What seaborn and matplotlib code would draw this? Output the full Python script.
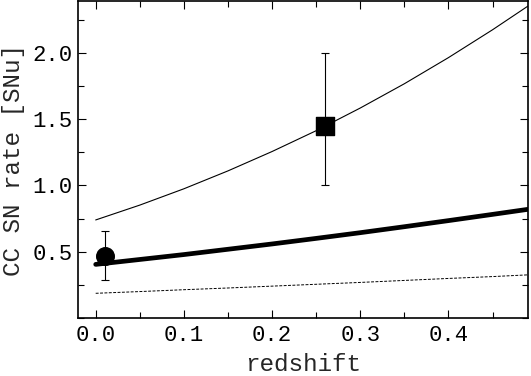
import matplotlib
matplotlib.use("Agg")
import matplotlib.pyplot as plt
import seaborn as sns
import pandas as pd
from matplotlib.ticker import MultipleLocator

sns.set_theme(style="ticks")
plt.rcParams['font.family'] = ['Liberation Mono', 'DejaVu Sans Mono']

# model curves
z_grid = [0.0, 0.05, 0.10, 0.15, 0.20, 0.25, 0.30, 0.35, 0.40, 0.45, 0.49]
upper = [0.740, 0.852, 0.975, 1.110, 1.256, 1.413, 1.584, 1.767, 1.964, 2.174, 2.352]
middle = [0.405, 0.442, 0.479, 0.519, 0.559, 0.601, 0.644, 0.689, 0.735, 0.782, 0.820]
lower = [0.187, 0.200, 0.214, 0.227, 0.241, 0.255, 0.269, 0.284, 0.299, 0.313, 0.326]

# measurements
circ_z = [0.01]
circ_rate = [0.47]
circ_lo = [0.285]
circ_hi = [0.66]
sq_z = [0.26]
sq_rate = [1.45]
sq_lo = [1.0]
sq_hi = [2.0]

fig = plt.figure(figsize=(5.31, 3.76), dpi=100)
ax = fig.add_axes([0.147, 0.154, 0.847, 0.843])

df = pd.DataFrame({"z": z_grid, "upper": upper, "middle": middle, "lower": lower})
sns.lineplot(data=df, x="z", y="upper", ax=ax, color="black", linewidth=0.8)
sns.lineplot(data=df, x="z", y="middle", ax=ax, color="black", linewidth=3.4)
sns.lineplot(data=df, x="z", y="lower", ax=ax, color="black", linewidth=0.7,
             linestyle=(0, (3, 1.5)))

for zz, r, lo, hi in [(circ_z, circ_rate, circ_lo, circ_hi), (sq_z, sq_rate, sq_lo, sq_hi)]:
    ax.errorbar(zz, r, yerr=[[r[0] - lo[0]], [hi[0] - r[0]]], fmt="none",
                ecolor="black", elinewidth=0.8, capsize=2.6, capthick=0.8)

sns.scatterplot(x=circ_z, y=circ_rate, ax=ax, marker="o", s=160, color="black",
                edgecolor="black", zorder=5)
sns.scatterplot(x=sq_z, y=sq_rate, ax=ax, marker="s", s=160, color="black",
                edgecolor="black", zorder=5)

ax.set_xlim(-0.02, 0.49)
ax.set_ylim(0.0, 2.39)
ax.set_xticks([0.0, 0.1, 0.2, 0.3, 0.4])
ax.set_yticks([0.5, 1.0, 1.5, 2.0])
ax.xaxis.set_minor_locator(MultipleLocator(0.05))
ax.yaxis.set_minor_locator(MultipleLocator(0.25))
ax.tick_params(which="both", direction="in", top=True, right=True, width=0.8,
               labelsize=16, colors="black")
ax.tick_params(axis="x", pad=5)
ax.tick_params(axis="y", pad=4)
ax.tick_params(which="major", length=6)
ax.tick_params(which="minor", length=4)
for s in ax.spines.values():
    s.set_linewidth(1.2)
    s.set_color("black")

ax.set_xlabel("redshift", fontsize=17.5, labelpad=5)
ax.set_ylabel("CC SN rate [SNu]", fontsize=17.5, labelpad=5)

fig.savefig("out.png", dpi=100)
